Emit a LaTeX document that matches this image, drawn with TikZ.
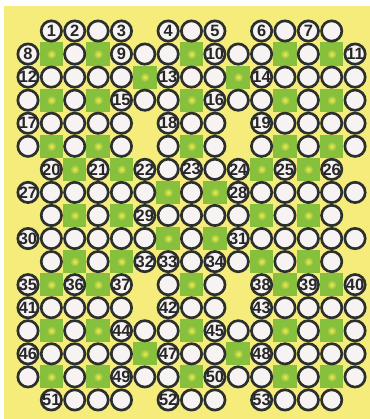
\documentclass[tikz,border=0pt]{standalone}
\usepackage{fontspec}
\setmainfont{Liberation Sans}
\usepackage{tikz}
\usetikzlibrary{positioning}
\definecolor{bgyellow}{HTML}{F5EC7B}
\definecolor{patchgreen}{HTML}{86C03C}
\definecolor{patchdot}{HTML}{F0EA50}
\definecolor{ringgray}{HTML}{2B302D}
\definecolor{cellwhite}{HTML}{F8F3F3}
\definecolor{numgray}{HTML}{262626}

\begin{document}
\begin{tikzpicture}[x=0.3mm,y=-0.3mm]
\tikzstyle{cell}=[circle,draw=ringgray,line width=0.8mm,fill=cellwhite,minimum size=6.1mm,inner sep=0pt]
\tikzstyle{num}=[inner sep=0pt,font=\fontsize{14}{14}\selectfont\bfseries,text=numgray]
\tikzstyle{patchbox}=[rectangle,fill=patchgreen,minimum width=7.05mm,minimum height=6.95mm,inner sep=0pt]
\useasboundingbox (0,0) rectangle (370,419);
\fill[bgyellow] (4,6) rectangle (370,419);
% green blocks
\foreach \r/\cols in {2/{1,3,7,11,13},3/{5,9},4/{1,3,7,11,13},6/{1,3,7,11,13},
    7/{2,4,10,12},8/{6,8},9/{2,4,10,12},10/{6,8},11/{2,4,10,12},
    12/{1,3,7,11,13},14/{1,3,7,11,13},15/{5,9},16/{1,3,7,11,13}}{
    \foreach \c in \cols {
        \node[patchbox] (b-\r-\c) at ({28+23.36*\c},{31+23.06*(\r-1)}) {};
        \shade[inner color=patchdot,outer color=patchgreen] (b-\r-\c) circle (5);
    }
}
% circles, row by row
\foreach \r/\cols in {1/{1,2,3,4,6,7,8,10,11,12,13},
    2/{0,2,4,5,6,8,9,10,12,14},
    3/{0,1,2,3,4,6,7,8,10,11,12,13,14},
    4/{0,2,4,5,6,8,9,10,12,14},
    5/{0,1,2,3,4,6,7,8,10,11,12,13,14},
    6/{0,2,4,6,8,10,12,14},
    7/{1,3,5,6,7,8,9,11,13},
    8/{0,1,2,3,4,5,7,9,10,11,12,13,14},
    9/{1,3,5,6,7,8,9,11,13},
    10/{0,1,2,3,4,5,7,9,10,11,12,13,14},
    11/{1,3,5,6,7,8,9,11,13},
    12/{0,2,4,6,8,10,12,14},
    13/{0,1,2,3,4,6,7,8,10,11,12,13,14},
    14/{0,2,4,5,6,8,9,10,12,14},
    15/{0,1,2,3,4,6,7,8,10,11,12,13,14},
    16/{0,2,4,5,6,8,9,10,12,14},
    17/{1,2,3,4,6,7,8,10,11,12,13}}{
    \foreach \c in \cols
        \node[cell] (c-\r-\c) at ({28+23.36*\c},{31+23.06*(\r-1)}) {};
}
% numbers
\foreach \n/\r/\c in {1/1/1,2/1/2,3/1/4,4/1/6,5/1/8,6/1/10,7/1/12,8/2/0,9/2/4,10/2/8,
    11/2/14,12/3/0,13/3/6,14/3/10,15/4/4,16/4/8,17/5/0,18/5/6,19/5/10,20/7/1,
    21/7/3,22/7/5,23/7/7,24/7/9,25/7/11,26/7/13,27/8/0,28/8/9,29/9/5,30/10/0,
    31/10/9,32/11/5,33/11/6,34/11/8,35/12/0,36/12/2,37/12/4,38/12/10,39/12/12,40/12/14,
    41/13/0,42/13/6,43/13/10,44/14/4,45/14/8,46/15/0,47/15/6,48/15/10,49/16/4,50/16/8,
    51/17/1,52/17/6,53/17/10}
    \node[num] (n\n) at (c-\r-\c) {\n};
\end{tikzpicture}
\end{document}
